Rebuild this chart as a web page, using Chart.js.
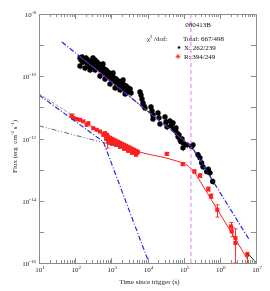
<!DOCTYPE html>
<html>
<head>
<meta charset="utf-8">
<script src="https://cdn.jsdelivr.net/npm/chart.js@4.4.1/dist/chart.umd.min.js"></script>
<style>
  html, body { margin: 0; padding: 0; background: #fff; }
</style>
</head>
<body>
<canvas id="lc-canvas" width="270" height="291"></canvas>
<script>
  //-----------------------
  //- DATA -
  //-----------------------

  // X-ray (black) points: time since trigger (s), flux (erg cm-2 s-1)
  var xrayTime = [136, 136, 145, 154, 165, 175, 187, 187, 199, 212, 226, 241, 257, 257, 274, 292, 311, 311, 332, 353,
    353, 377, 401, 428, 456, 486, 486, 518, 552, 589, 589, 628, 669, 669, 713, 760, 810, 864, 921, 921,
    982, 1047, 1116, 1116, 1190, 1268, 1268, 1352, 1441, 1536, 1638, 1740, 1740, 1860, 1980, 2110, 2110, 2250, 2400, 2400,
    2560, 2730, 2910, 3100, 3300, 3500, 6200, 6610, 7045, 7510, 8006, 8535, 12490, 13310, 14190, 14190, 19500, 20790, 22160, 30450,
    32460, 34600, 41860, 44620, 47570, 50710, 54060, 57630, 61430, 65490, 69810, 74420, 79330, 84330, 89900, 95830, 102200, 123600, 166600, 181000,
    248900, 282700, 314800, 342000, 432900, 479300, 534100, 634500];
  var xrayFlux = [3.87e-10, 2.14e-10, 3.34e-10, 4.17e-10, 2.88e-10, 3.6e-10, 3.1e-10, 1.85e-10, 3.87e-10, 2.68e-10, 3.34e-10, 2.14e-10, 2.88e-10, 1.6e-10, 2.48e-10, 3.1e-10, 1.99e-10, 3.87e-10, 2.68e-10, 3.34e-10,
    1.6e-10, 2.31e-10, 2.88e-10, 1.85e-10, 2.48e-10, 2.14e-10, 1.02e-10, 1.6e-10, 1.99e-10, 1.38e-10, 2.48e-10, 1.72e-10, 1.28e-10, 8.2e-11, 1.6e-10, 1.1e-10, 1.38e-10, 9.5e-11, 1.19e-10, 5.67e-11,
    8.2e-11, 1.02e-10, 7.62e-11, 1.28e-10, 8.83e-11, 6.57e-11, 4.22e-11, 8.2e-11, 4.89e-11, 7.08e-11, 5.67e-11, 6.57e-11, 3.64e-11, 4.54e-11, 5.67e-11, 4.22e-11, 7.62e-11, 5.26e-11, 3.64e-11, 2.71e-11,
    4.89e-11, 3.14e-11, 4.22e-11, 3.38e-11, 3.92e-11, 2.92e-11, 3.14e-11, 2.52e-11, 1.87e-11, 1.39e-11, 1.115e-11, 9.62e-12, 1.035e-11, 7.71e-12, 5.74e-12, 4.27e-12, 6.65e-12, 4.6e-12, 2.95e-12, 4.95e-12,
    3.42e-12, 2.37e-12, 3.68e-12, 2.55e-12, 2.95e-12, 3.18e-12, 2.04e-12, 1.89e-12, 2.19e-12, 1.52e-12, 1.13e-12, 1.31e-12, 9.04e-13, 7.8e-13, 9.73e-13, 5.01e-13, 6.73e-13, 6.25e-13, 5.51e-13, 6.25e-13,
    2.99e-13, 2.39e-13, 1.65e-13, 1.23e-13, 8.69e-14, 1.04e-13, 7.89e-14, 4.15e-14];
  var xrayErrFrac = 0.22; // typical size of the grey error bars

  // R band (red) points
  var optTime = [80, 89, 110, 136, 168, 208, 231, 317, 394, 486, 600, 668, 745,
    713, 760, 810, 810, 864, 864, 921, 982, 1047, 1047, 1116, 1190, 1268, 1352, 1352, 1441, 1536, 1638, 1740, 1740,
    1860, 1980, 2110, 2250, 2250, 2400, 2560, 2730, 2910, 2910, 3100, 3300, 3500, 3730, 3730, 3980, 4240, 4520, 4820, 4820, 5140, 5480,
    34000, 94000, 197000, 283000, 480000, 570000, 850000, 2030000, 2130000, 2700000, 2700000, 5740000];
  var optFlux = [5.33e-12, 4.5e-12, 4.18e-12, 3.98e-12, 3.55e-12, 2.75e-12, 3.1e-12, 2.14e-12, 1.9e-12, 1.67e-12, 1.31e-12, 1.48e-12, 1.05e-12,
    9.73e-13, 1.31e-12, 1.13e-12, 8.4e-13, 9.73e-13, 7.24e-13, 1.05e-12, 9.04e-13, 9.73e-13, 6.73e-13, 8.4e-13, 9.04e-13, 7.8e-13, 8.4e-13, 6.25e-13, 7.24e-13, 7.8e-13, 6.73e-13, 7.24e-13, 5.4e-13,
    6.25e-13, 6.73e-13, 5.81e-13, 6.25e-13, 4.66e-13, 5.4e-13, 5.81e-13, 5.01e-13, 5.4e-13, 4.01e-13, 4.66e-13, 5.01e-13, 4.32e-13, 4.66e-13, 3.46e-13, 4.01e-13, 4.32e-13, 3.73e-13, 4.01e-13, 2.99e-13, 3.46e-13, 3.73e-13,
    3.21e-13, 1.5e-13, 8.7e-14, 6.46e-14, 2.37e-14, 1.41e-14, 5.1e-15, 1.49e-15, 1.03e-15, 6.3e-16, 4.4e-16, 1.85e-16];
  var optErrLo = [4.6e-12, null, null, null, null, null, null, null, null, null, null, null, 4.9e-13,
    null, null, null, null, null, null, null, null, null, null, null, null, null, null, null, null, null, null, null, null,
    null, null, null, null, null, null, null, null, null, null, null, null, null, null, null, null, null, null, null, null, null, null,
    2.9e-13, 1.35e-13, 7.8e-14, 5.7e-14, 2.05e-14, 1.2e-14, 3.0e-15, 1.1e-15, 7e-16, 1e-16, null, 1e-16];
  var optErrHi = [6.1e-12, null, null, null, null, null, null, null, null, null, null, null, 1.31e-12,
    null, null, null, null, null, null, null, null, null, null, null, null, null, null, null, null, null, null, null, null,
    null, null, null, null, null, null, null, null, null, null, null, null, null, null, null, null, null, null, null, null, null, null,
    3.55e-13, 1.67e-13, 9.7e-14, 7.3e-14, 2.75e-14, 1.65e-14, 7.4e-15, 2.0e-15, 1.4e-15, 1.26e-15, null, 2.2e-16];

  // fitted model curves
  var xModelTime = [43, 1.66e5, 6.5e6];
  var xModelFlux = [1.26e-9, 5.5e-13, 5.6e-16];
  var xModelRedTime = [136, 1.66e5];
  var xModelRedFlux = [4.29e-10, 5.5e-13];
  var rModelTime = [72, 158, 316, 600, 1000, 3160, 1e4, 3.16e4, 1e5, 1.26e5, 1.85e5, 2.5e5, 1e6, 6.2e6];
  var rModelFlux = [6.2e-12, 3.55e-12, 2.29e-12, 1.55e-12, 8.1e-13, 4.47e-13, 3.16e-13, 2.4e-13, 1.62e-13, 1.38e-13, 9.3e-14, 5.4e-14, 3.9e-15, 1.17e-16];
  var steepTime = [10, 600, 1.1e4];
  var steepFlux = [2.5e-11, 7.9e-13, 1e-16];
  var flatTime = [10, 600, 5500];
  var flatFlux = [2.55e-12, 7.4e-13, 3.9e-13];
  var sumTime = [10, 30, 80];
  var sumFlux = [2.75e-11, 1.19e-11, 5.8e-12];
  var tailTime = [5.74e6, 1.04e7];
  var tailFlux = [2.1e-16, 1e-16];
  var breakTime = 1.59e5;

  // axis ticks
  var xTickExp = [1, 2, 3, 4, 5, 6, 7];
  var yTickExp = [-16, -15, -14, -13, -12, -11, -10, -9, -8];
  var yLabelExp = [-16, -14, -12, -10, -8];

  var SERIF = '"Liberation Serif", "Times New Roman", serif';

  function pairs(ts, fs) {
    return ts.map(function (t, i) { return { x: t, y: fs[i] }; });
  }

  // text with a raised exponent
  function drawPow(ctx, base, exp, x, y, align, size) {
    var small = Math.round(size * 0.7);
    ctx.font = size + "px " + SERIF;
    var wb = ctx.measureText(base).width;
    ctx.font = small + "px " + SERIF;
    var we = ctx.measureText(exp).width;
    var w = wb + we;
    var x0 = align === "right" ? x - w : align === "center" ? x - w / 2 : x;
    ctx.textAlign = "left";
    ctx.textBaseline = "alphabetic";
    ctx.font = size + "px " + SERIF;
    ctx.fillText(base, x0, y);
    ctx.font = small + "px " + SERIF;
    ctx.fillText(exp, x0 + wb, y - size * 0.42);
  }

  var frameAxes = {
    id: "frameAxes",
    beforeDatasetsDraw: function (chart) {
      var ctx = chart.ctx;
      var ys = chart.scales.y;
      ctx.save();
      ctx.lineWidth = 1;
      chart.data.datasets.forEach(function (ds, i) {
        if (!ds.errLo && !ds.errFrac) return;
        var meta = chart.getDatasetMeta(i);
        ctx.strokeStyle = ds.errColor;
        meta.data.forEach(function (pt, j) {
          var lo, hi;
          if (ds.errFrac) {
            lo = ds.data[j].y * (1 - ds.errFrac);
            hi = ds.data[j].y * (1 + ds.errFrac);
          } else {
            lo = ds.errLo[j];
            hi = ds.errHi[j];
            if (lo === null) return;
          }
          var y1 = Math.min(ys.getPixelForValue(lo), chart.chartArea.bottom);
          var y2 = ys.getPixelForValue(hi);
          var px = Math.round(pt.x) + 0.5;
          ctx.beginPath();
          ctx.moveTo(px, y1);
          ctx.lineTo(px, y2);
          if (ds.errCap) {
            ctx.moveTo(px - 2, y1);
            ctx.lineTo(px + 2, y1);
            ctx.moveTo(px - 2, y2);
            ctx.lineTo(px + 2, y2);
          }
          ctx.stroke();
        });
      });
      ctx.restore();
    },
    afterDraw: function (chart) {
      var ctx = chart.ctx;
      var a = chart.chartArea;
      var xs = chart.scales.x;
      var ys = chart.scales.y;
      ctx.save();

      // frame
      ctx.strokeStyle = "#8c8c8c";
      ctx.lineWidth = 1;
      ctx.strokeRect(Math.round(a.left) + 0.5, Math.round(a.top) + 0.5, Math.round(a.right - a.left), Math.round(a.bottom - a.top));

      // x ticks, top and bottom, pointing inward
      ctx.beginPath();
      xTickExp.forEach(function (e) {
        for (var m = 1; m <= 9; m++) {
          if (e === 7 && m > 1) break;
          var px = Math.round(xs.getPixelForValue(m * Math.pow(10, e))) + 0.5;
          var len = m === 1 ? 5 : 3;
          ctx.moveTo(px, a.bottom);
          ctx.lineTo(px, a.bottom - len);
          ctx.moveTo(px, a.top);
          ctx.lineTo(px, a.top + len);
        }
      });
      // y ticks, left and right
      yTickExp.forEach(function (e) {
        var py = Math.round(ys.getPixelForValue(Math.pow(10, e))) + 0.5;
        ctx.moveTo(a.left, py);
        ctx.lineTo(a.left + 5, py);
        ctx.moveTo(a.right, py);
        ctx.lineTo(a.right - 5, py);
      });
      ctx.stroke();

      // tick labels
      ctx.fillStyle = "#222";
      xTickExp.forEach(function (e) {
        var px = xs.getPixelForValue(Math.pow(10, e));
        drawPow(ctx, "10", String(e), px + 1, 272, "center", 7);
      });
      yLabelExp.forEach(function (e) {
        var py = ys.getPixelForValue(Math.pow(10, e));
        drawPow(ctx, "10", String(e), a.left - 3, py + 3, "right", 7);
      });

      // axis titles
      ctx.font = "7px " + SERIF;
      ctx.textAlign = "center";
      ctx.textBaseline = "alphabetic";
      ctx.fillText("Time since trigger (s)", (a.left + a.right) / 2 + 2, 284);

      ctx.save();
      ctx.translate(17, (a.top + a.bottom) / 2 + 8);
      ctx.rotate(-Math.PI / 2);
      var parts = [["Flux (erg  cm", 7, 0], ["-2", 5, -3], [" s", 7, 0], ["-1", 5, -3], [")", 7, 0]];
      var total = 0;
      parts.forEach(function (p) { ctx.font = p[1] + "px " + SERIF; total += ctx.measureText(p[0]).width; });
      var cx = -total / 2;
      ctx.textAlign = "left";
      parts.forEach(function (p) {
        ctx.font = p[1] + "px " + SERIF;
        ctx.fillText(p[0], cx, p[2]);
        cx += ctx.measureText(p[0]).width;
      });
      ctx.restore();

      // legend block
      ctx.fillStyle = "#111";
      ctx.font = "7px " + SERIF;
      ctx.textAlign = "center";
      ctx.fillText("080413B", 198, 27);
      ctx.textAlign = "left";
      drawPow(ctx, "\u03c7", "2", 147, 41, "left", 7);
      ctx.font = "7px " + SERIF;
      ctx.fillText("/dof:", 154, 41);
      ctx.fillText("Total: 667/498", 183, 41);
      ctx.fillText("X: 262/239", 184, 50);
      ctx.fillText("R: 394/249", 184, 59);
      ctx.beginPath();
      ctx.arc(179, 47.5, 1.3, 0, 2 * Math.PI);
      ctx.fill();
      // red star marker
      ctx.strokeStyle = "#ff3030";
      ctx.fillStyle = "#ff3030";
      ctx.lineWidth = 0.8;
      ctx.beginPath();
      ctx.moveTo(175.5, 56.5); ctx.lineTo(180.5, 56.5);
      ctx.moveTo(178, 54); ctx.lineTo(178, 59);
      ctx.moveTo(176.2, 54.7); ctx.lineTo(179.8, 58.3);
      ctx.moveTo(179.8, 54.7); ctx.lineTo(176.2, 58.3);
      ctx.stroke();
      ctx.fillRect(177, 55.5, 2, 2);

      ctx.restore();
    }
  };

  var lightCurveCanvas = document.getElementById("lc-canvas");

  var lightCurveChart = new Chart(lightCurveCanvas, {
    type: "scatter",
    data: {
      datasets: [
        {
          label: "break",
          data: [{ x: breakTime, y: 1e-16 }, { x: breakTime, y: 1e-8 }],
          showLine: true,
          borderColor: "#f060f0",
          borderWidth: 0.9,
          borderDash: [4, 3],
          pointRadius: 0,
          order: 1,
        },
        {
          label: "X model",
          data: pairs(xModelTime, xModelFlux),
          showLine: true,
          borderColor: "#2a2ae0",
          borderWidth: 1.3,
          borderDash: [5, 2, 1, 2],
          pointRadius: 0,
          order: 2,
        },
        {
          label: "X model red",
          data: pairs(xModelRedTime, xModelRedFlux),
          showLine: true,
          borderColor: "#ff3030",
          borderWidth: 0.8,
          pointRadius: 0,
          order: 3,
        },
        {
          label: "R model",
          data: pairs(rModelTime, rModelFlux),
          showLine: true,
          borderColor: "#ff2020",
          borderWidth: 1,
          pointRadius: 0,
          tension: 0,
          order: 4,
        },
        {
          label: "steep",
          data: pairs(steepTime, steepFlux),
          showLine: true,
          borderColor: "#2a2ae0",
          borderWidth: 1.2,
          borderDash: [5, 2, 1, 2],
          pointRadius: 0,
          order: 5,
        },
        {
          label: "flat",
          data: pairs(flatTime, flatFlux),
          showLine: true,
          borderColor: "#555",
          borderWidth: 0.9,
          borderDash: [5, 2, 1, 2, 1, 2],
          pointRadius: 0,
          order: 6,
        },
        {
          label: "sum",
          data: pairs(sumTime, sumFlux),
          showLine: true,
          borderColor: "#888",
          borderWidth: 0.9,
          borderDash: [3, 2],
          pointRadius: 0,
          order: 7,
        },
        {
          label: "tail",
          data: pairs(tailTime, tailFlux),
          showLine: true,
          borderColor: "#222",
          borderWidth: 0.9,
          pointRadius: 0,
          order: 8,
        },
        {
          label: "R",
          data: pairs(optTime, optFlux),
          errLo: optErrLo,
          errHi: optErrHi,
          errColor: "#ff3030",
          errCap: true,
          pointStyle: "rect",
          pointRadius: 2.9,
          backgroundColor: "#ff2020",
          borderColor: "#ff2020",
          borderWidth: 0,
          order: 9,
        },
        {
          label: "X",
          data: pairs(xrayTime, xrayFlux),
          errFrac: xrayErrFrac,
          errColor: "#7a7a7a",
          pointRadius: 2.7,
          backgroundColor: "#000",
          borderColor: "#000",
          borderWidth: 0,
          order: 10,
        },
      ],
    },
    options: {
      responsive: false,
      animation: false,
      devicePixelRatio: 1,
      layout: { padding: { left: 39, right: 14, top: 14, bottom: 28 } },
      plugins: {
        legend: { display: false },
        tooltip: { enabled: false },
      },
      scales: {
        x: { type: "logarithmic", min: 10, max: 1e7, display: false },
        y: { type: "logarithmic", min: 1e-16, max: 1e-8, display: false },
      },
    },
    plugins: [frameAxes],
  });
</script>
</body>
</html>
